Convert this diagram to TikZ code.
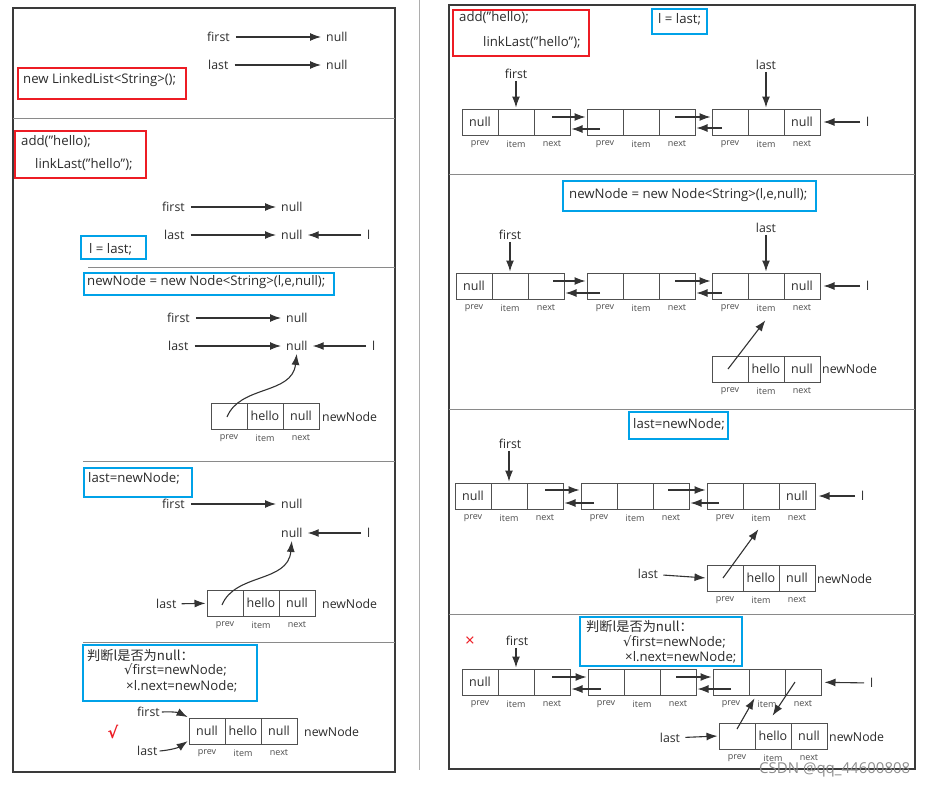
\documentclass[tikz,border=0pt]{standalone}
\usepackage{fontspec}
\setmainfont{Open Sans}
\newfontfamily\cjk{Noto Sans CJK SC}
\newfontfamily\dv{DejaVu Sans}
\usetikzlibrary{arrows.meta,calc}
\definecolor{textc}{HTML}{2B2B2B}
\definecolor{arrc}{HTML}{333333}
\definecolor{cellc}{HTML}{505050}
\definecolor{panelc}{HTML}{3A3A3A}
\definecolor{sepc}{HTML}{8A8A8A}
\definecolor{boxred}{HTML}{ED1C24}
\definecolor{boxblue}{HTML}{00A2E8}
\tikzset{
  txt/.style={font=\fontsize{12.3}{14}\selectfont, text=textc, inner sep=2pt},
  code/.style={font=\fontsize{13.2}{15}\selectfont, text=textc, inner sep=2pt},
  cell/.style={draw=cellc, line width=1pt, minimum width=36pt, minimum height=26pt, inner sep=0pt, font=\fontsize{12.5}{14}\selectfont, text=textc},
  lab/.style={font=\fontsize{9}{10}\selectfont, text=textc!85, inner sep=0pt},
  arr/.style={draw=arrc, line width=1.1pt, -{Latex[length=11pt,width=8pt]}, shorten >=1pt},
  tarr/.style={arr, shorten <=4pt, shorten >=3pt},
  redbox/.style={draw=boxred, line width=1.6pt},
  bluebox/.style={draw=boxblue, line width=1.6pt},
  panel/.style={draw=panelc, line width=1.2pt},
  sepline/.style={draw=sepc, line width=0.8pt},
}
\newcommand\LLnode[6]{%
  \node[cell] (#1a) at ({#2+18},{#3+13}) {#4};
  \node[cell] (#1b) at ({#2+54},{#3+13}) {#5};
  \node[cell] (#1c) at ({#2+90},{#3+13}) {#6};
  \node[lab] (#1pl) at ({#2+18},{#3+35}) {prev};
  \node[lab] (#1il) at ({#2+54},{#3+35}) {item};
  \node[lab] (#1nl) at ({#2+90},{#3+35}) {next};
}
\begin{document}
\begin{tikzpicture}[x=1pt,y=-1pt]
\useasboundingbox (0,0) rectangle (945,788);
% panels
\draw[panel] (13,8) rectangle (395,772);
\draw[panel] (449,5) rectangle (915,769);
\draw[draw=sepc!70, line width=0.8pt] (419,0) -- (419,770);
% left separators
\draw[sepline] (13,118) -- (395,118);
\draw[sepline] (88,267) -- (395,267);
\draw[sepline] (83,461) -- (395,461);
\draw[sepline] (83,642) -- (395,642);
% right separators
\draw[sepline] (449,174) -- (915,174);
\draw[sepline] (449,409) -- (915,409);
\draw[sepline] (449,614) -- (915,614);

% ===== Left section 1
\node[txt,anchor=west] (Lf1) at (205,37) {first};
\node[txt,anchor=west] (Ln1) at (324,37) {null};
\node[txt,anchor=west] (Ll1) at (206,65) {last};
\node[txt,anchor=west] (Ln2) at (324,65) {null};
\draw[tarr] (Lf1) -- (Ln1);
\draw[tarr] (Ll1.east |- Ln2) -- (Ln2);
\draw[redbox] (18,68) rectangle (186,99);
\node[code,anchor=west] (Lc1) at (21,80) {new LinkedList<String>();};

% ===== Left section 2
\draw[redbox] (15,131) rectangle (146,178);
\node[code,anchor=west] (Lc2) at (19,142) {add("hello);};
\node[code,anchor=west] (Lc3) at (33,165) {linkLast("hello");};
\node[txt,anchor=west] (Lf2) at (160,207) {first};
\node[txt,anchor=west] (Ln3) at (279,207) {null};
\node[txt,anchor=west] (Ll2) at (162,235) {last};
\node[txt,anchor=west] (Ln4) at (279,235) {null};
\node[txt,anchor=west] (Lv1) at (365,235) {l};
\draw[tarr] (Lf2) -- (Ln3);
\draw[tarr] (Ll2.east |- Ln4) -- (Ln4);
\draw[tarr] (Lv1) -- (Ln4);
\draw[bluebox] (81,236) rectangle (146,259);
\node[code,anchor=west] (Lc4) at (87,249) {l = last;};

% ===== Left section 3
\draw[bluebox] (84,273) rectangle (334,295);
\node[code,anchor=west] (Lc5) at (85,282) {newNode = new Node<String>(l,e,null);};
\node[txt,anchor=west] (Lf3) at (165,318) {first};
\node[txt,anchor=west] (Ln5) at (284,318) {null};
\node[txt,anchor=west] (Ll3) at (166,346) {last};
\node[txt,anchor=west] (Ln6) at (284,346) {null};
\node[txt,anchor=west] (Lv2) at (370,346) {l};
\draw[tarr] (Lf3) -- (Ln5);
\draw[tarr] (Ll3.east |- Ln6) -- (Ln6);
\draw[tarr] (Lv2) -- (Ln6);
\LLnode{LA}{211}{403}{}{hello}{null}
\node[txt,anchor=west] (LAn) at (320,417) {newNode};
\draw[arr] (227,417) .. controls (240,385) and (292,395) .. (Ln6.south);

% ===== Left section 4
\draw[bluebox] (84,468) rectangle (192,497);
\node[code,anchor=west] (Lc6) at (86,478) {last=newNode;};
\node[txt,anchor=west] (Lf4) at (160,504) {first};
\node[txt,anchor=west] (Ln7) at (279,504) {null};
\node[txt,anchor=west] (Ln8) at (279,533) {null};
\node[txt,anchor=west] (Lv3) at (365,533) {l};
\draw[tarr] (Lf4) -- (Ln7);
\draw[tarr] (Lv3) -- (Ln8);
\LLnode{LB}{207}{590}{}{hello}{null}
\node[txt,anchor=west] (LBn) at (320,604) {newNode};
\node[txt,anchor=west] (Ll4) at (154,604) {last};
\draw[arr, shorten <=3pt] (Ll4) -- (LBa);
\draw[arr] (222,605) .. controls (235,573) and (288,583) .. (Ln8.south);

% ===== Left section 5
\draw[bluebox] (83,645) rectangle (257,701);
\node[code,anchor=west] (Lc7) at (85,655) {\cjk 判断l是否为null：};
\node[code,anchor=west] (Lc8) at (122,670) {{\dv √}first=newNode;};
\node[code,anchor=west] (Lc9) at (124,686) {×l.next=newNode;};
\LLnode{LC}{189}{718}{null}{hello}{null}
\node[txt,anchor=west] (LCn) at (302,732) {newNode};
\node[txt,anchor=west] (Lf5) at (135,712) {first};
\node[txt,anchor=west] (Ll5) at (135,751) {last};
\node[text=boxred,font=\dv\bfseries\fontsize{16}{18}\selectfont,inner sep=0pt] (Lok) at (113,732) {√};
\draw[arr] (Lf5.east) to[bend left=15] (LCa.north west);
\draw[arr] (Ll5.east) to[bend right=15] ($(LCa.south west)+(0,-4)$);

% ===== Right section 1
\draw[redbox] (453,10) rectangle (589,56);
\node[code,anchor=west] (Rc1) at (457,18) {add("hello);};
\node[code,anchor=west] (Rc2) at (481,43) {linkLast("hello");};
\draw[bluebox] (652,9) rectangle (707,34);
\node[code,anchor=west] (Rc3) at (656,19) {l = last;};
\LLnode{RA}{462}{109}{null}{}{}
\LLnode{RB}{587}{109}{}{}{}
\LLnode{RC}{712}{109}{}{}{null}
\node[txt] (Rf1) at (516,74) {first};
\node[txt] (Rl1) at (766,65) {last};
\node[txt,anchor=west] (Rv1) at (864,122) {l};
\draw[arr] (RAb.north |- Rf1.south) -- (RAb.north);
\draw[arr] (RCb.north |- Rl1.south) -- (RCb.north);
\draw[tarr] (Rv1) -- (RCc);
\draw[arr] ($(RAc.center)+(0,-5)$) coordinate (s1) -- (s1 -| RBa.west);
\draw[arr] ($(RBa.center)+(-5,7)$) coordinate (s2) -- (s2 -| RAc.east);
\draw[arr] ($(RBc.center)+(-2,-5)$) coordinate (s3) -- (s3 -| RCa.west);
\draw[arr] ($(RCa.center)+(-8,6)$) coordinate (s4) -- (s4 -| RBc.east);

% ===== Right section 2
\draw[bluebox] (563,181) rectangle (816,211);
\node[code,anchor=west] (Rc4) at (567,195) {newNode = new Node<String>(l,e,null);};
\LLnode{RD}{456}{273}{null}{}{}
\LLnode{RE}{587}{273}{}{}{}
\LLnode{RF}{712}{273}{}{}{null}
\node[txt] (Rf2) at (510,235) {first};
\node[txt] (Rl2) at (766,228) {last};
\node[txt,anchor=west] (Rv2) at (864,286) {l};
\draw[arr] (RDb.north |- Rf2.south) -- (RDb.north);
\draw[arr] (RFb.north |- Rl2.south) -- (RFb.north);
\draw[tarr] (Rv2) -- (RFc);
\draw[arr] ($(RDc.center)+(7,-5)$) coordinate (s5) -- (s5 -| REa.west);
\draw[arr] ($(REa.center)+(-5,7)$) coordinate (s6) -- (s6 -| RDc.east);
\draw[arr] ($(REc.center)+(-2,-5)$) coordinate (s7) -- (s7 -| RFa.west);
\draw[arr] ($(RFa.center)+(-8,7)$) coordinate (s8) -- (s8 -| REc.east);
\LLnode{RG}{712}{356}{}{hello}{null}
\node[txt,anchor=west] (RGn) at (820,369) {newNode};
\draw[arr] ($(RGa.center)+(-2,0)$) -- ($(RFb.south)+(0,20)$);

% ===== Right section 3
\draw[bluebox] (629,412) rectangle (728,439);
\node[code,anchor=west] (Rc5) at (631,424) {last=newNode;};
\LLnode{RH}{455}{483}{null}{}{}
\LLnode{RI}{581}{483}{}{}{}
\LLnode{RJ}{707}{483}{}{}{null}
\node[txt] (Rf3) at (510,444) {first};
\node[txt,anchor=west] (Rv3) at (859,496) {l};
\draw[arr] (RHb.north |- Rf3.south) -- (RHb.north);
\draw[tarr] (Rv3) -- (RJc);
\draw[arr] ($(RHc.center)+(0,-6)$) coordinate (s9) -- (s9 -| RIa.west);
\draw[arr] ($(RIa.center)+(-5,7)$) coordinate (s10) -- (s10 -| RHc.east);
\draw[arr] ($(RIc.center)+(-3,-6)$) coordinate (s11) -- (s11 -| RJa.west);
\draw[arr] ($(RJa.center)+(-6,7)$) coordinate (s12) -- (s12 -| RIc.east);
\LLnode{RK}{707}{565}{}{hello}{null}
\node[txt,anchor=west] (RKn) at (815,579) {newNode};
\node[txt] (Rl3) at (648,574) {last};
\draw[arr, shorten <=3pt] (Rl3) -- (RKa.west);
\draw[arr] ($(RKa.center)+(-2,0)$) -- ($(RJb.south)+(-2,19)$);

% ===== Right section 4
\draw[bluebox] (580,617) rectangle (742,666);
\node[code,anchor=west] (Rc6) at (584,626) {\cjk 判断l是否为null：};
\node[code,anchor=west] (Rc7) at (621,642) {{\dv √}first=newNode;};
\node[code,anchor=west] (Rc8) at (623,657) {×l.next=newNode;};
\node[text=boxred,font=\fontsize{17}{18}\selectfont,inner sep=0pt] (Rno) at (470,642) {×};
\LLnode{RL}{462}{669}{null}{}{}
\LLnode{RM}{588}{669}{}{}{}
\LLnode{RN}{713}{669}{}{}{}
\node[txt] (Rf4) at (517,641) {first};
\node[txt,anchor=west] (Rv4) at (868,683) {l};
\draw[arr] (RLb.north |- Rf4.south) -- (RLb.north);
\draw[tarr] (Rv4) -- (RNc);
\draw[arr] ($(RLc.center)+(0,-5)$) coordinate (s13) -- (s13 -| RMa.west);
\draw[arr] ($(RMa.center)+(-5,7)$) coordinate (s14) -- (s14 -| RLc.east);
\draw[arr] ($(RMc.center)+(-2,-5)$) coordinate (s15) -- (s15 -| RNa.west);
\draw[arr] ($(RNa.center)+(0,7)$) coordinate (s16) -- (s16 -| RMc.east);
\LLnode{RO}{719}{723}{}{hello}{null}
\node[txt,anchor=west] (ROn) at (827,737) {newNode};
\node[txt] (Rl4) at (670,738) {last};
\draw[arr, shorten <=3pt] (Rl4) -- (ROa.west);
\draw[arr] ($(ROa.center)+(0,-7)$) -- ($(RNb.south)+(-12,2)$);
\draw[arr] ($(RNc.center)+(-8,0)$) -- ($(ROb.north)+(-1,-6)$);

% watermark
\node[txt,text=black!45,font=\fontsize{15}{17}\selectfont,anchor=west] (wm) at (757,770) {CSDN @qq\_44600808};
\end{tikzpicture}
\end{document}
